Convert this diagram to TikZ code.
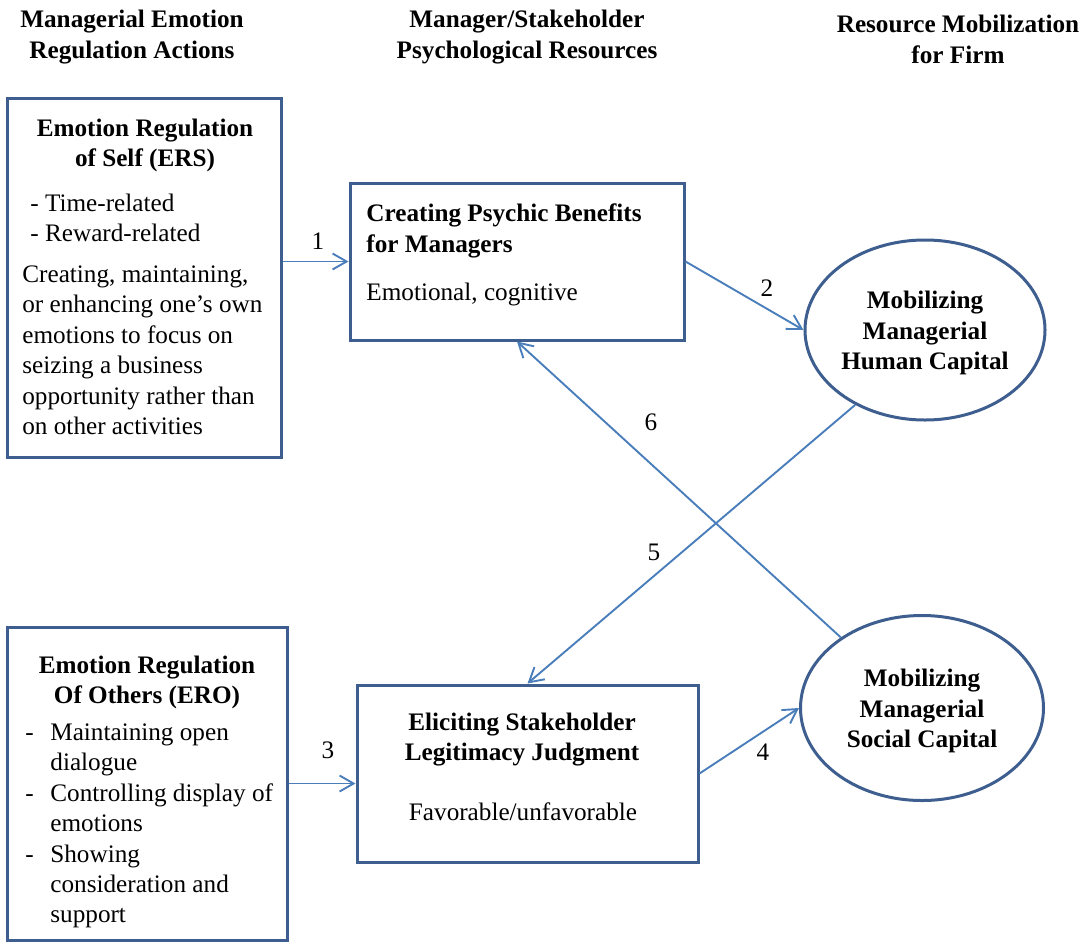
\documentclass[tikz,border=0pt]{standalone}
\usepackage{fontspec}
\setmainfont{Liberation Serif}
\usetikzlibrary{arrows.meta,shapes.geometric}
\definecolor{boxblue}{HTML}{3D5E8E}
\definecolor{linkblue}{HTML}{4A7EBB}

\begin{document}
\begin{tikzpicture}[
    x=0.5pt, y=-0.5pt,
    >={Straight Barb[length=7pt,width=8pt]},
    every node/.style={inner sep=0pt, font=\fontsize{12.6}{15.2}\selectfont},
    box/.style={draw=boxblue, line width=1.5pt, rectangle},
    capital/.style={draw=boxblue, line width=1.5pt, ellipse},
    head/.style={font=\fontsize{12.6}{15.2}\selectfont\bfseries, align=center, anchor=north},
    txt/.style={align=left, anchor=north west},
    link/.style={->, draw=linkblue, line width=0.95pt}
]
  \useasboundingbox (0,0) rectangle (1091,942);

  % column heads
  \node[head] (h1) at (132,10)  {Managerial Emotion\\Regulation Actions};
  \node[head] (h2) at (527,10)  {Manager/Stakeholder\\Psychological Resources};
  \node[head] (h3) at (958,15)  {Resource Mobilization\\for Firm};

  % boxes
  \node[box, minimum width=137pt, minimum height=179.5pt] (ERS) at (144,277.5) {};
  \node[box, minimum width=167pt, minimum height=78.5pt]  (CPB) at (517,261.5) {};
  \node[box, minimum width=140pt, minimum height=156.5pt] (ERO) at (147,783.5) {};
  \node[box, minimum width=170.5pt, minimum height=88.5pt] (ESL) at (527.5,773.5) {};
  \node[capital, minimum width=120pt, minimum height=90pt] (HC) at (925,330) {};
  \node[capital, minimum width=121.5pt, minimum height=92.5pt] (SC) at (922,708) {};

  % box texts
  \node[head] (ERStitle) at (145,118.5) {Emotion Regulation\\of Self (ERS)};
  \node[txt] (ERSlist) at (30,193.5) {- Time-related\\- Reward-related};
  \node[txt] (ERSbody) at (22,265.5) {Creating, maintaining,\\or enhancing one’s own\\emotions to focus on\\seizing a business\\opportunity rather than\\on other activities};

  \node[head, align=left, anchor=north west] (CPBtitle) at (366,203.5) {Creating Psychic Benefits\\for Managers};
  \node[txt] (CPBbody) at (366,282.5) {Emotional, cognitive};

  \node[head, anchor=center] (HCtext) at (925,333) {Mobilizing\\Managerial\\Human Capital};

  \node[head] (EROtitle) at (147,655.5) {Emotion Regulation\\Of Others (ERO)};
  \node[txt] (EROlist) at (50,723.5) {\llap{-\hspace{8.3pt}}Maintaining open\\dialogue\\\llap{-\hspace{8.3pt}}Controlling display of\\emotions\\\llap{-\hspace{8.3pt}}Showing\\consideration and\\support};

  \node[head] (ESLtitle) at (522,712.5) {Eliciting Stakeholder\\Legitimacy Judgment};
  \node[anchor=north] (ESLbody) at (523,802.5) {Favorable/unfavorable};

  \node[head, anchor=center] (SCtext) at (922,711) {Mobilizing\\Managerial\\Social Capital};

  % edges
  \draw[link] (CPB.west -| ERS.east) -- (CPB.west);
  \draw[link] (CPB.east) -- (HC.west);
  \draw[link] (ERO.east) -- (ERO.east -| ESL.west);
  \draw[link] (ESL.east) -- (SC.west);
  \draw[link] (HC.227) -- (ESL.north);
  \draw[link] (SC.139) -- (CPB.south);

  % edge labels
  \node (l1) at (318,241) {1};
  \node (l2) at (767,288) {2};
  \node (l3) at (328,750) {3};
  \node (l4) at (763,752) {4};
  \node (l5) at (654,552) {5};
  \node (l6) at (651,422) {6};
\end{tikzpicture}
\end{document}
